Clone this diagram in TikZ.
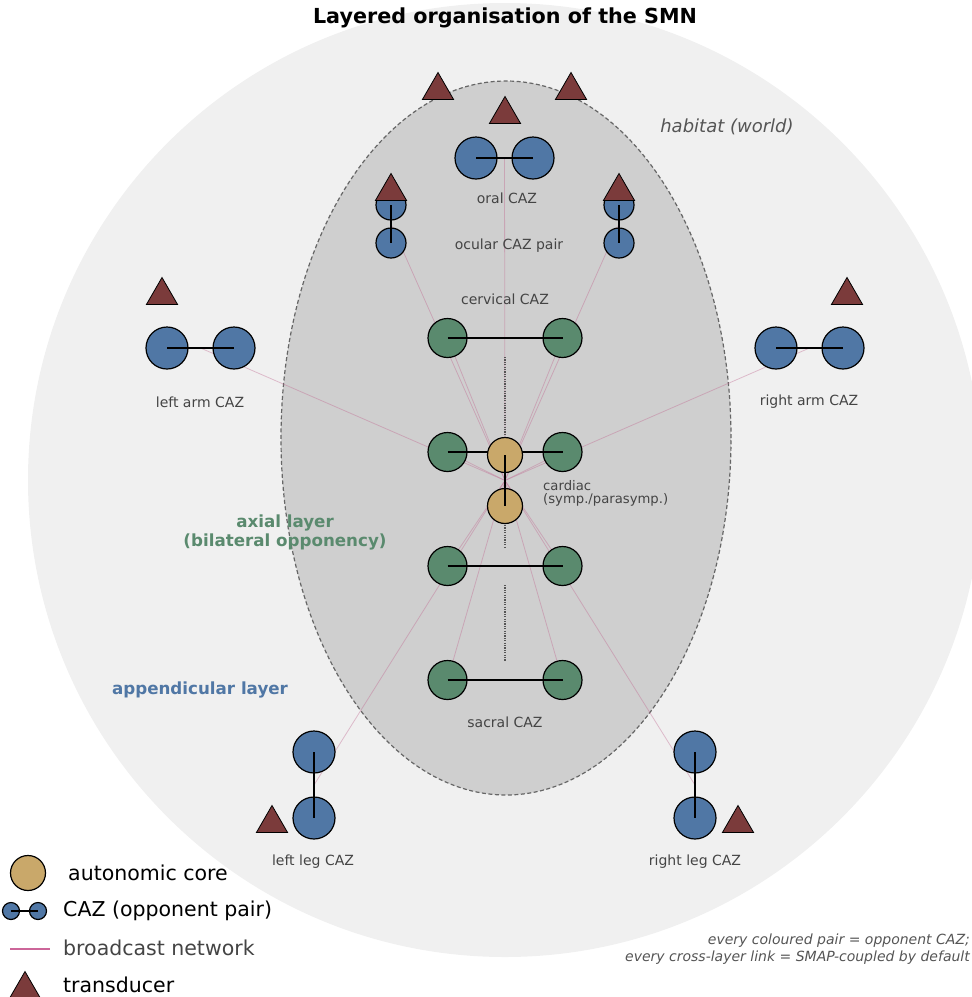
\documentclass[tikz,border=0pt]{standalone}
\usepackage{fontspec}
\setmainfont{DejaVu Sans}
\usetikzlibrary{shapes.geometric,calc}
\definecolor{cazblue}{HTML}{5077A5}
\definecolor{axgreen}{HTML}{5A8A6E}
\definecolor{coretan}{HTML}{C9A86A}
\definecolor{transred}{HTML}{7B3B3B}
\definecolor{habfill}{HTML}{F0F0F0}
\definecolor{axfill}{HTML}{CFCFCF}
\definecolor{axedge}{HTML}{666666}
\definecolor{bpink}{HTML}{C06890}
\definecolor{legpink}{HTML}{CC6699}
\definecolor{spinegray}{HTML}{555555}
\definecolor{labgray}{HTML}{444444}
\definecolor{notegray}{HTML}{555555}
\pgfdeclarelayer{back}
\pgfdeclarelayer{mid}
\pgfsetlayers{back,mid,main}
\tikzset{
  pairbar/.style={line width=1.5pt, draw=black},
  cazb/.style={circle, draw=black, line width=1.2pt, fill=cazblue, inner sep=0pt, minimum size=42pt},
  cazs/.style={cazb, minimum size=30pt},
  axnode/.style={circle, draw=black, line width=1.2pt, fill=axgreen, inner sep=0pt, minimum size=39pt},
  corenode/.style={circle, draw=black, line width=1.2pt, fill=coretan, inner sep=0pt, minimum size=35pt},
  trans/.style={regular polygon, regular polygon sides=3, draw=black, line width=0.8pt, fill=transred, inner sep=0pt, minimum size=36pt},
  bcast/.style={draw=bpink, line width=0.8pt, draw opacity=0.4},
  spine/.style={draw=spinegray, line width=1.2pt, dash pattern=on 1.2pt off 1.2pt},
  lbl/.style={font=\fontsize{14}{16}\selectfont, text=labgray, inner sep=0pt},
  legtxt/.style={font=\fontsize{20.5}{24}\selectfont, anchor=west, inner sep=0pt},
  notetxt/.style={font=\itshape\fontsize{14}{17}\selectfont, text=notegray, anchor=east, inner sep=0pt},
}
\begin{document}
\begin{tikzpicture}[x=1pt,y=-1pt]
\useasboundingbox (0,0) rectangle (972,997);
% ---- backgrounds
\begin{pgfonlayer}{back}
  \fill[habfill] (505,480) circle [radius=477pt];
  \draw[axedge, fill=axfill, line width=1.2pt, dash pattern=on 4pt off 2.5pt] (506,438) ellipse [x radius=225pt, y radius=357pt];
\end{pgfonlayer}
% ---- axial nodes
\node[axnode] (cervL) at (447.5,338) {};
\node[axnode] (cervR) at (562.5,338) {};
\node[axnode] (cardL) at (447.5,452) {};
\node[axnode] (cardR) at (562.5,452) {};
\node[axnode] (lumbL) at (447.5,566) {};
\node[axnode] (lumbR) at (562.5,566) {};
\node[axnode] (sacL) at (447.5,680) {};
\node[axnode] (sacR) at (562.5,680) {};
\draw[pairbar] (cervL.center) -- (cervR.center);
\draw[pairbar] (cardL.center) -- (cardR.center);
\draw[pairbar] (lumbL.center) -- (lumbR.center);
\draw[pairbar] (sacL.center) -- (sacR.center);
% ---- core
\node[corenode] (coreA) at (505,455) {};
\node[corenode] (coreB) at (505,506) {};
\draw[pairbar] (coreA.center) -- (coreB.center);
\coordinate (hub) at ($(coreA.center)!0.5!(coreB.center)$);
% ---- appendicular / head pairs
\node[cazb] (oralL) at (476,158) {};
\node[cazb] (oralR) at (533,158) {};
\node[cazs] (ocLa) at (391,205) {};
\node[cazs] (ocLb) at (391,243) {};
\node[cazs] (ocRa) at (619,205) {};
\node[cazs] (ocRb) at (619,243) {};
\node[cazb] (armLa) at (167,348) {};
\node[cazb] (armLb) at (234,348) {};
\node[cazb] (armRa) at (776,348) {};
\node[cazb] (armRb) at (843,348) {};
\node[cazb] (legLa) at (314,752) {};
\node[cazb] (legLb) at (314,818) {};
\node[cazb] (legRa) at (695,752) {};
\node[cazb] (legRb) at (695,818) {};
\draw[pairbar] (oralL.center) -- (oralR.center);
\draw[pairbar] (ocLa.center) -- (ocLb.center);
\draw[pairbar] (ocRa.center) -- (ocRb.center);
\draw[pairbar] (armLa.center) -- (armLb.center);
\draw[pairbar] (armRa.center) -- (armRb.center);
\draw[pairbar] (legLa.center) -- (legLb.center);
\draw[pairbar] (legRa.center) -- (legRb.center);
% ---- broadcast network and spine (under the nodes)
\begin{pgfonlayer}{mid}
  \foreach \a/\b in {oralL/oralR, ocLa/ocLb, ocRa/ocRb, armLa/armLb, armRa/armRb, legLa/legLb, legRa/legRb}{
    \draw[bcast] (hub) -- ($(\a.center)!0.5!(\b.center)$);
  }
  \foreach \n in {cervL,cervR,cardL,cardR,lumbL,lumbR,sacL,sacR}{
    \draw[bcast] (hub) -- (\n.center);
  }
  \coordinate (cervM) at ($(cervL.center)!0.5!(cervR.center)$);
  \coordinate (lumbM) at ($(lumbL.center)!0.5!(lumbR.center)$);
  \coordinate (sacM) at ($(sacL.center)!0.5!(sacR.center)$);
  \draw[spine] ($(cervM)+(0,19)$) -- ($(coreA.center)+(0,-19)$);
  \draw[spine] ($(coreB.center)+(0,19)$) -- ($(lumbM)+(0,-19)$);
  \draw[spine] ($(lumbM)+(0,19)$) -- ($(sacM)+(0,-19)$);
\end{pgfonlayer}
% ---- transducers
\node[trans] (tOral) at (505,114.5) {};
\node[trans] (tTopL) at (438,90.5) {};
\node[trans] (tTopR) at (571,90.5) {};
\node[trans] (tOcL) at (391,191.5) {};
\node[trans] (tOcR) at (619,191.5) {};
\node[trans] (tArmL) at (162,295.5) {};
\node[trans] (tArmR) at (847,295.5) {};
\node[trans] (tLegL) at (272,823.5) {};
\node[trans] (tLegR) at (738,823.5) {};
% ---- labels
\node[font=\bfseries\fontsize{20.7}{24}\selectfont, inner sep=0pt] (title) at (505,18) {Layered organisation of the SMN};
\node[font=\itshape\fontsize{18}{21}\selectfont, text=notegray, inner sep=0pt] (habitat) at (727,127) {habitat (world)};
\node[lbl] (loral) at (507,198) {oral CAZ};
\node[lbl] (locular) at (509,246) {ocular CAZ pair};
\node[lbl] (lcerv) at (505,299) {cervical CAZ};
\node[lbl] (larmL) at (200,402) {left arm CAZ};
\node[lbl] (larmR) at (809,402) {right arm CAZ};
\node[lbl, anchor=north west, align=left, font=\fontsize{13.2}{13.5}\selectfont] (lcard) at (543,480) {cardiac\\(symp./parasymp.)};
\node[lbl] (lsac) at (505,722) {sacral CAZ};
\node[lbl] (llegL) at (313,862) {left leg CAZ};
\node[lbl] (llegR) at (695,862) {right leg CAZ};
\node[font=\bfseries\fontsize{16.7}{19}\selectfont, text=axgreen, align=center, inner sep=0pt] (laxial) at (285,532) {axial layer\\(bilateral opponency)};
\node[font=\bfseries\fontsize{16.7}{19}\selectfont, text=cazblue, inner sep=0pt] (lapp) at (200,690) {appendicular layer};
\node[notetxt] (note1) at (970,941) {every coloured pair = opponent CAZ;};
\node[notetxt] (note2) at (970,958) {every cross-layer link = SMAP-coupled by default};
% ---- legend
\node[corenode] (legCore) at (28,873) {};
\node[legtxt] (legCoreT) at (68,873) {autonomic core};
\node[cazb, minimum size=17pt] (legCazA) at (11,911) {};
\node[cazb, minimum size=17pt] (legCazB) at (38,911) {};
\draw[line width=1.5pt] (legCazA.center) -- (legCazB.center);
\node[legtxt] (legCazT) at (63,911) {CAZ (opponent pair)};
\coordinate (legBa) at (10,949);
\coordinate (legBb) at (50,949);
\draw[legpink, line width=1.5pt] (legBa) -- (legBb);
\node[legtxt, text=labgray] (legBT) at (63,948) {broadcast network};
\node[trans] (legTr) at (25,989.5) {};
\node[legtxt] (legTrT) at (63,985) {transducer};
\end{tikzpicture}
\end{document}
